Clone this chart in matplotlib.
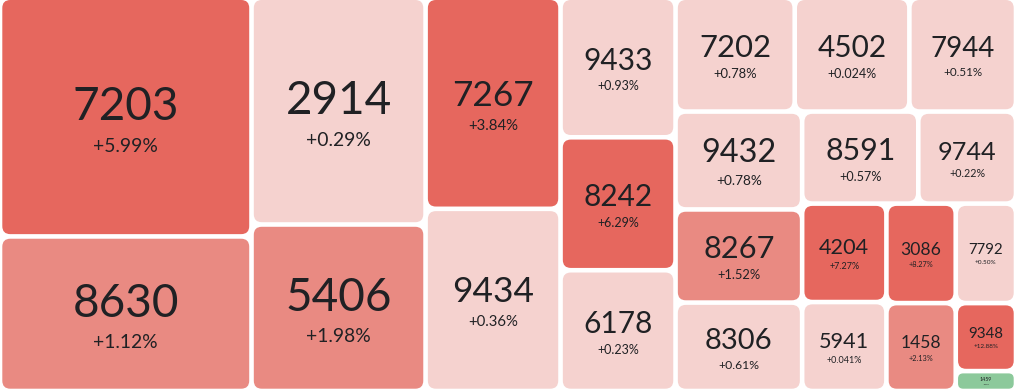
import numpy as np
import matplotlib
matplotlib.use("Agg")
import matplotlib.pyplot as plt
from matplotlib.patches import FancyBboxPatch

# ticker codes, tile weights (area share) and daily change
codes = ["7203", "8630", "2914", "5406", "7267", "9434", "9433", "8242", "6178",
         "7202", "4502", "7944", "9432", "8267", "8306", "8591", "9744",
         "4204", "5941", "3086", "7792", "1458", "9348", "1459"]
weights = [59.5, 38.9, 39.1, 29.0, 28.2, 24.6, 15.8, 15.3, 13.9,
           13.3, 12.8, 11.9, 12.4, 11.8, 11.2, 10.7, 9.0,
           8.3, 7.5, 6.9, 6.0, 6.1, 4.1, 1.2]
changes = ["+5.99%", "+1.12%", "+0.29%", "+1.98%", "+3.84%", "+0.36%", "+0.93%", "+6.29%", "+0.23%",
           "+0.78%", "+0.024%", "+0.51%", "+0.78%", "+1.52%", "+0.61%", "+0.57%", "+0.22%",
           "+7.27%", "+0.041%", "+8.27%", "+0.50%", "+2.13%", "+12.88%", "-0.07%"]

W, H = 1016, 391
DPI = 100


def worst(row, side):
    s = sum(row)
    return max(max(side * side * r / (s * s), s * s / (side * side * r)) for r in row)


def layout(vals, x, y, w, h):
    # squarified treemap, values kept in the given order
    rects = []
    vals = list(vals)
    while vals:
        side = min(w, h)
        row = [vals.pop(0)]
        while vals and worst(row + [vals[0]], side) <= worst(row, side):
            row.append(vals.pop(0))
        s = sum(row)
        if w >= h:
            cw = s / h
            yy = y
            for r in row:
                rects.append((x, yy, cw, r / cw))
                yy += r / cw
            x += cw
            w -= cw
        else:
            rh = s / w
            xx = x
            for r in row:
                rects.append((xx, y, r / rh, rh))
                xx += r / rh
            y += rh
            h -= rh
    return rects


def tile_color(txt):
    v = float(txt.rstrip("%"))
    if v < 0:
        return "#8cc99b"
    if v >= 3:
        return "#e6675e"
    if v >= 1:
        return "#e98a82"
    return "#f5d2cf"


total = sum(weights)
areas = [wt / total * W * H for wt in weights]
rects = layout(areas, 0, 0, W, H)

fig = plt.figure(figsize=(W / DPI, H / DPI), dpi=DPI)
ax = fig.add_axes([0, 0, 1, 1])
ax.set_xlim(0, W)
ax.set_ylim(H, 0)
ax.axis("off")

gap = 2.3
pt = 72.0 / DPI
for (x, y, w, h), code, chg in zip(rects, codes, changes):
    bx, by, bw, bh = x + gap, y + gap, w - 2 * gap, h - 2 * gap
    if y < 1:
        by, bh = y, h - gap  # top row sits on the edge
    r = min(8, bh / 3, bw / 3)
    ax.add_patch(FancyBboxPatch((bx, by), bw, bh,
                                boxstyle="round,pad=0,rounding_size=%.2f" % r,
                                facecolor=tile_color(chg), edgecolor="none"))
    dh = min(0.195 * bw, 33, 0.25 * bh)  # digit height in px
    ph = dh * 0.42
    cx, cy = bx + bw / 2, by + bh / 2
    ax.text(cx, cy - 0.3 * dh, code, ha="center", va="center",
            fontsize=dh / 0.72 * pt, color="#202124", family="Lato")
    ax.text(cx, cy + 0.88 * dh, chg, ha="center", va="center",
            fontsize=ph / 0.72 * pt, color="#202124", family="Lato")

fig.savefig("out.png", dpi=DPI)
